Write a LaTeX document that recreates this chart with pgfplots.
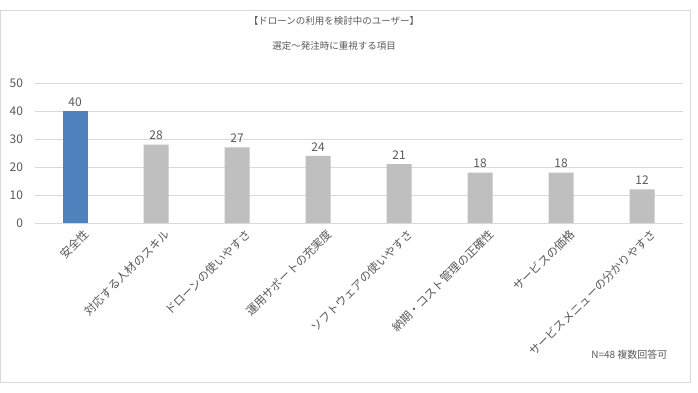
\documentclass[border=0pt]{standalone}
\usepackage{fontspec}
\setmainfont{Noto Sans CJK JP}
\usepackage{pgfplots}
\pgfplotsset{compat=1.18}
\definecolor{txt}{HTML}{595959}
\definecolor{grid}{HTML}{D9D9D9}
\definecolor{barblue}{HTML}{4F81BD}
\definecolor{bargray}{HTML}{BFBFBF}
\begin{document}
\begin{tikzpicture}[x=1pt,y=1pt]
\path (0,0) rectangle (698,393);
\draw[color=grid,line width=0.8pt] (0.5,11) rectangle (690,383);
\node[txt,font=\fontsize{9.5}{11}\selectfont] at (334,372) {【ドローンの利用を検討中のユーザー】};
\node[txt,font=\fontsize{9.5}{11}\selectfont] at (334,347) {選定～発注時に重視する項目};
\node[txt,font=\fontsize{10}{12}\selectfont,anchor=east] at (671,38) {N=48 複数回答可};
\begin{axis}[
  at={(34.5pt,170pt)}, anchor=south west,
  scale only axis, width=648pt, height=140pt,
  xmin=-0.5, xmax=7.5, ymin=0, ymax=50,
  ytick={0,10,20,30,40,50},
  xtick={0,...,7},
  xticklabels={安全性,対応する人材のスキル,ドローンの使いやすさ,運用サポートの充実度,ソフトウェアの使いやすさ,納期・コスト管理の正確性,サービスの価格,サービスメニューの分かりやすさ},
  xticklabel style={rotate=45,anchor=north east,font=\fontsize{11.5}{13}\selectfont,text=txt,inner sep=1pt,yshift=-8pt,xshift=3pt},
  yticklabel style={font=\fontsize{12}{13}\selectfont,text=txt,xshift=-8pt},
  /pgf/number format/assume math mode=true,
  ymajorgrids, grid style={color=grid,line width=0.8pt},
  axis line style={draw=none},
  major tick length=0pt,
  ybar, bar width=25pt, bar shift=0pt,
  nodes near coords,
  every node near coord/.append style={font=\fontsize{12}{13}\selectfont,text=txt,yshift=1pt},
  clip=false,
]
\addplot[fill=barblue,draw=none] coordinates {(0,40)};
\addplot[fill=bargray,draw=none] coordinates {(1,28) (2,27) (3,24) (4,21) (5,18) (6,18) (7,12)};
\end{axis}
\end{tikzpicture}
\end{document}
